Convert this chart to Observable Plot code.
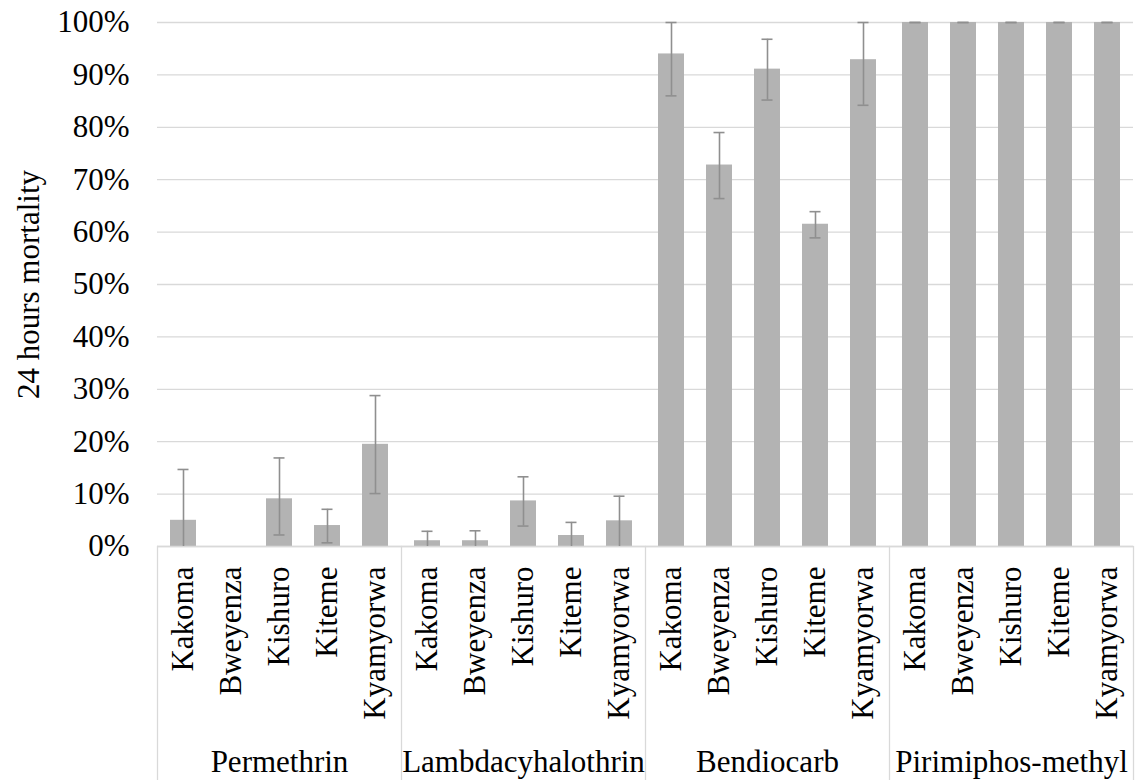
<!DOCTYPE html>
<html>
<head>
<meta charset="utf-8">
<script src="https://cdn.jsdelivr.net/npm/d3@7"></script>
<script src="https://cdn.jsdelivr.net/npm/@observablehq/plot@0.6"></script>
<style>
  html, body { margin: 0; padding: 0; background: #fff; }
  #chart { width: 1145px; height: 780px; }
</style>
</head>
<body>
<div id="chart"></div>
<script>
const groups = ["Permethrin", "Lambdacyhalothrin", "Bendiocarb", "Pirimiphos-methyl"];
const sites = ["Kakoma", "Bweyenza", "Kishuro", "Kiteme", "Kyamyorwa"];
const yTicks = [0, 0.1, 0.2, 0.3, 0.4, 0.5, 0.6, 0.7, 0.8, 0.9, 1];

const permethrin = [0.05, 0, 0.091, 0.04, 0.195];
const lambdacyhalothrin = [0.011, 0.011, 0.087, 0.021, 0.049];
const bendiocarb = [0.94, 0.728, 0.911, 0.615, 0.929];
const pirimiphos = [1, 1, 1, 1, 1];

const permethrinLow = [0, null, 0.022, 0.007, 0.101];
const permethrinHigh = [0.147, null, 0.169, 0.071, 0.288];
const lambdaLow = [0, 0, 0.039, 0, 0];
const lambdaHigh = [0.029, 0.030, 0.133, 0.046, 0.096];
const bendiocarbLow = [0.86, 0.664, 0.852, 0.589, 0.842];
const bendiocarbHigh = [1, 0.79, 0.968, 0.639, 1];
const pirimiphosLow = [1, 1, 1, 1, 1];
const pirimiphosHigh = [1, 1, 1, 1, 1];

const values = [permethrin, lambdacyhalothrin, bendiocarb, pirimiphos];
const lows = [permethrinLow, lambdaLow, bendiocarbLow, pirimiphosLow];
const highs = [permethrinHigh, lambdaHigh, bendiocarbHigh, pirimiphosHigh];

const rows = groups.flatMap((g, i) => sites.map((s, j) => ({
  group: g, site: s, value: values[i][j], lo: lows[i][j], hi: highs[i][j]
})));
const errRows = rows.filter(d => d.hi != null);

const font = '"Liberation Serif", "Times New Roman", serif';
const grid = "#d9d9d9";
const errColor = "#8f8f8f";

const chart = Plot.plot({
  width: 1145,
  height: 780,
  marginLeft: 155,
  marginRight: 11,
  marginTop: 22,
  marginBottom: 234,
  style: { fontFamily: font, fontSize: "31px", color: "#000", background: "#fff" },
  fx: { domain: groups, padding: 0, label: null },
  x: { domain: sites, paddingInner: 0.46, paddingOuter: 0.23, label: null },
  y: { domain: [0, 1], label: null },
  marks: [
    Plot.gridY(yTicks, { stroke: grid, strokeOpacity: 1, strokeWidth: 1.3 }),
    Plot.frame({ anchor: "left", stroke: grid, strokeOpacity: 1, strokeWidth: 1.3, insetTop: 524, insetBottom: -234 }),
    Plot.frame({ anchor: "right", facet: "super", stroke: grid, strokeOpacity: 1, strokeWidth: 1.3, insetTop: 524, insetBottom: -234 }),
    Plot.barY(rows, { fx: "group", x: "site", y: "value", fill: "#b3b3b3" }),
    Plot.ruleY([0], { stroke: grid, strokeWidth: 1.3 }),
    Plot.ruleX(errRows, { fx: "group", x: "site", y1: "lo", y2: "hi", stroke: errColor, strokeWidth: 1.6 }),
    Plot.tickY(errRows, { fx: "group", x: "site", y: "hi", stroke: errColor, strokeWidth: 1.6, insetLeft: 7.5, insetRight: 7.5 }),
    Plot.tickY(errRows.filter(d => d.lo > 0), { fx: "group", x: "site", y: "lo", stroke: errColor, strokeWidth: 1.6, insetLeft: 7.5, insetRight: 7.5 }),
    Plot.axisY(yTicks, {
      tickFormat: d3.format(".0%"), tickSize: 0, tickPadding: 28, fontSize: 31, fill: "#000",
      label: "24 hours mortality", labelAnchor: "center", labelArrow: "none", labelOffset: 141
    }),
    Plot.axisX({ tickRotate: -90, tickSize: 0, tickPadding: 20, fontSize: 31, fill: "#000", label: null }),
    Plot.axisFx({ anchor: "bottom", tickSize: 0, tickPadding: 203, fontSize: 31, fill: "#000", label: null })
  ]
});
document.getElementById("chart").appendChild(chart);
</script>
</body>
</html>
